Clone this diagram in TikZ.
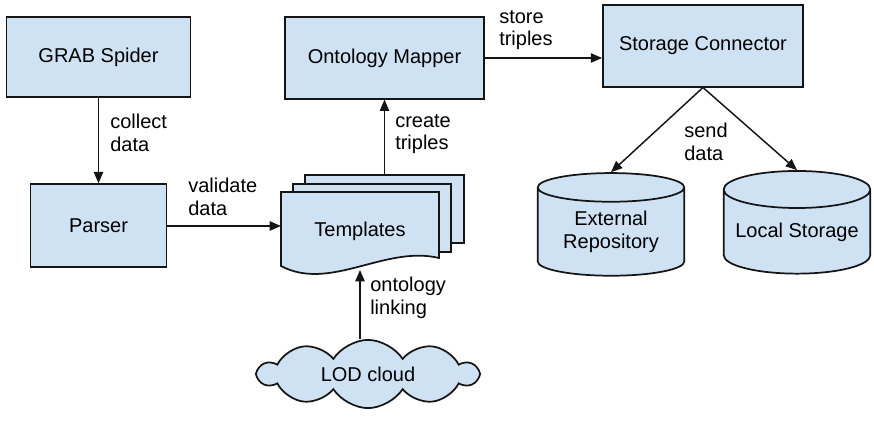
\documentclass[tikz,border=0pt]{standalone}
\usepackage{fontspec}
\setmainfont{Liberation Sans}
\usetikzlibrary{arrows.meta,shapes.geometric,shapes.symbols}
\definecolor{boxfill}{HTML}{CFE2F3}
\definecolor{ink}{HTML}{151515}
\tikzset{
  block/.style={draw=ink, fill=boxfill, line width=1.3pt, rectangle, font=\fontsize{15}{17}\selectfont},
  store/.style={block, cylinder, shape border rotate=90, aspect=0.3, cylinder uses custom fill, cylinder body fill=boxfill, cylinder end fill=boxfill, minimum width=110pt, minimum height=77pt, align=center, inner sep=0pt},
  sheet/.style={draw=ink, fill=boxfill, line width=1.3pt},
  flow/.style={draw=ink, line width=1.1pt, -{Triangle[length=8.5pt,width=7pt]}},
  lab/.style={font=\fontsize{15}{17}\selectfont, align=left, inner sep=0pt},
}

\begin{document}
\begin{tikzpicture}[x=0.75pt, y=-0.75pt]
  \useasboundingbox (0,0) rectangle (874,431);

  \node[block, minimum width=138pt, minimum height=60pt] (spider) at (98.5,57) {GRAB Spider};
  \node[block, minimum width=102pt, minimum height=62pt] (parser) at (98.5,225.5) {Parser};
  \node[block, minimum width=149pt, minimum height=61pt] (mapper) at (384.5,58) {Ontology Mapper};
  \node[block, minimum width=150pt, minimum height=61pt] (connector) at (703,46) {Storage Connector};

  % stacked template sheets, front one with a wavy lower edge
  \draw[sheet] (305,175) rectangle (464,243);
  \draw[sheet] (293,184) rectangle (451,252);
  \draw[sheet] (281,192) -- (439,192) -- (439,258)
    .. controls (385,245) and (330,292) .. (281,266) -- cycle;
  \node[lab] (tpl) at (360,231) {Templates};
  \coordinate (tplw) at (281,226);
  \coordinate (tpln) at (384.5,175);
  \coordinate (tpls) at (360,270);

  \node[draw=ink, fill=boxfill, line width=1.3pt, cloud, cloud puffs=10, cloud puff arc=115, aspect=3.2,
        minimum width=164pt, minimum height=50pt, font=\fontsize{15}{17}\selectfont] (lod) at (368,374) {LOD cloud};

  \node[store] (extrepo) at (611,232) {External\\Repository};
  \node[store] (local) at (797,232) {Local Storage};

  \draw[flow] (spider) -- (parser);
  \draw[flow] (parser.east |- tplw) -- (tplw);
  \draw[flow] (tpln) -- (tpln |- mapper.south);
  \draw[flow] (lod.north -| tpls) -- (tpls);
  \draw[flow] (mapper.east) -- (connector.west |- mapper.east);
  \draw[flow] (connector.south) -- (extrepo.top);
  \draw[flow] (connector.south) -- (local.top);

  \node[lab, anchor=west] (l1) at (110,133) {collect\\data};
  \node[lab, anchor=west] (l2) at (188,197) {validate\\data};
  \node[lab, anchor=west] (l3) at (395,134) {create\\triples};
  \node[lab, anchor=west] (l4) at (370,298) {ontology\\linking};
  \node[lab, anchor=west] (l5) at (499,30) {store\\triples};
  \node[lab, anchor=west] (l6) at (684,142) {send\\data};
\end{tikzpicture}
\end{document}
